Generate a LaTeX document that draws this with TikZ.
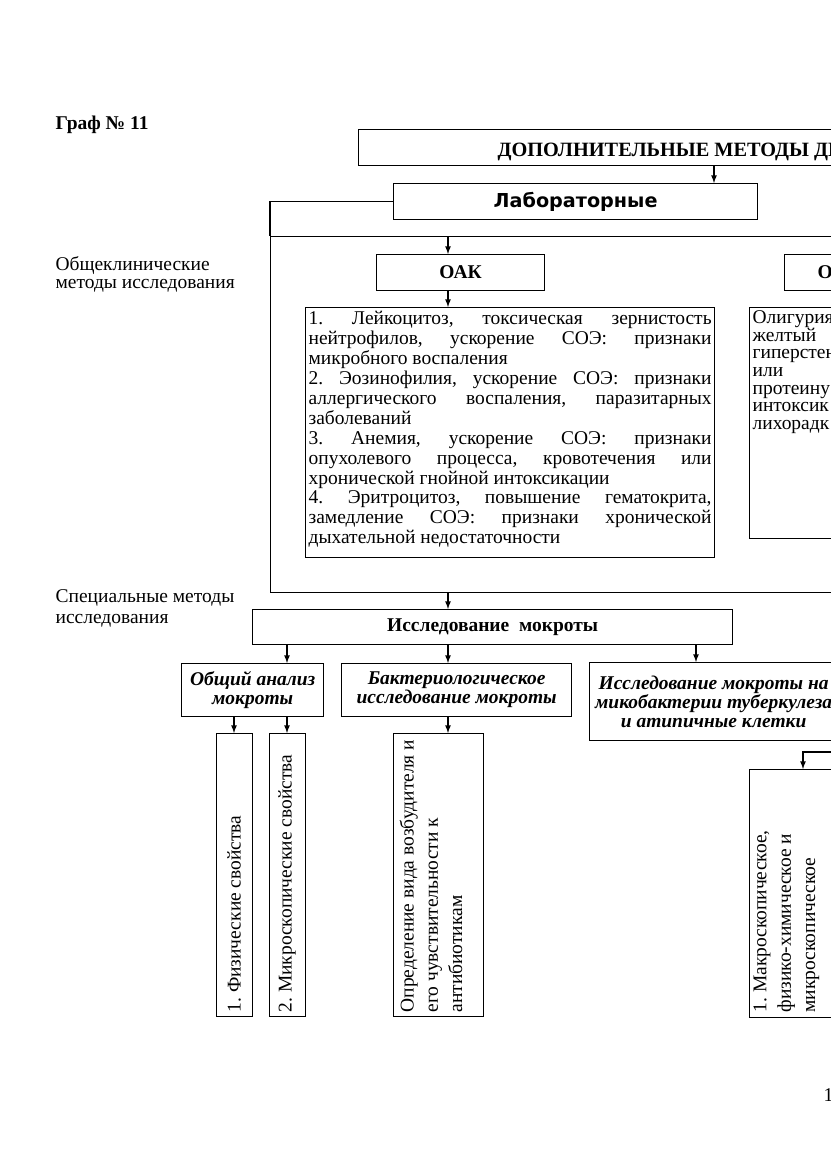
\documentclass[tikz,border=0pt]{standalone}
\usepackage{fontspec}
\setmainfont{Liberation Serif}
\newfontfamily\blacksans{DejaVu Sans}
\usetikzlibrary{arrows,positioning}
\newcommand{\pxl}[1]{#1*0.2527mm}
\hyphenpenalty=10000
\exhyphenpenalty=10000
\frenchspacing

\begin{document}
\begin{tikzpicture}[x=0.2527mm,y=-0.2527mm,>=latex,line width=0.9pt]
\tikzstyle{bx}=[rectangle,draw=black,inner sep=0pt,anchor=north west]
\tikzstyle{txtonly}=[rectangle,inner sep=0pt]
\tikzstyle{hd}=[font=\fontsize{14}{16}\selectfont\bfseries]
\tikzstyle{sub}=[font=\fontsize{14}{13.6}\selectfont\bfseries\itshape,align=center]
\tikzstyle{body}=[txtonly,anchor=north west,font=\fontsize{14}{14.1}\selectfont]
\tikzstyle{vtxt}=[txtonly,rotate=90,align=left,font=\fontsize{14}{17.5}\selectfont]
\useasboundingbox (0,0) rectangle (831,1174);
\clip (0,0) rectangle (831,1174);
\coordinate (colA) at (448,0);
\coordinate (colB) at (714,0);
\coordinate (colC) at (287,0);
\coordinate (colD) at (234,0);
\coordinate (colE) at (696,0);
\coordinate (colF) at (803,0);
% title and top row
\node (graf) [txtonly,hd,anchor=base west] at (55,129) {Граф № 11};
\node (dop) [bx,minimum width=\pxl{520},minimum height=\pxl{36}] at (358,129) {};
\node (doplbl) [txtonly,font=\fontsize{14.6}{16}\selectfont\bfseries,anchor=base west] at (497,156) {ДОПОЛНИТЕЛЬНЫЕ МЕТОДЫ ДИ};
\node (lab) [bx,minimum width=\pxl{364},minimum height=\pxl{36},font=\blacksans\bfseries\fontsize{13.8}{15}\selectfont] at (393,183) {Лабораторные};
\draw[->] (dop.south -| colB) -- (lab.north -| colB);
% side labels
\node (obkl) [body,align=left,font=\fontsize{14}{12.9}\selectfont] at (55,256) {Общеклинические\\методы исследования};
\node (spec) [body,align=left,font=\fontsize{14}{15}\selectfont] at (55,589) {Специальные методы\\исследования};
% frame of the laboratory part
\node (frm) [bx,minimum width=\pxl{620},minimum height=\pxl{356}] at (270,236) {};
\draw (lab.west) -| (frm.north west);
\node (oak) [bx,hd,minimum width=\pxl{168},minimum height=\pxl{36}] at (376,254) {ОАК};
\draw[->] (frm.north -| colA) -- (oak.north -| colA);
\node (oakbox) [bx,minimum width=\pxl{409},minimum height=\pxl{250}] at (305,307) {};
\draw[->] (oak.south -| colA) -- (oakbox.north -| colA);
\node (oaktxt) [body,text width=\pxl{403},align=justify,font=\fontsize{14}{14.3}\selectfont] at (308,311) {%
1. Лейкоцитоз, токсическая зернистость\linebreak
нейтрофилов, ускорение СОЭ: признаки\linebreak
микробного воспаления\par
2. Эозинофилия, ускорение СОЭ: признаки\linebreak
аллергического воспаления, паразитарных\linebreak
заболеваний\par
3. Анемия, ускорение СОЭ: признаки\linebreak
опухолевого процесса, кровотечения или\linebreak
хронической гнойной интоксикации\par
4. Эритроцитоз, повышение гематокрита,\linebreak
замедление СОЭ: признаки хронической\linebreak
дыхательной недостаточности};
\node (oam) [bx,minimum width=\pxl{100},minimum height=\pxl{36}] at (784,254) {};
\node (oamlbl) [txtonly,hd,anchor=west] at (817,272) {О};
\node (oambox) [bx,minimum width=\pxl{120},minimum height=\pxl{231}] at (749,307) {};
\node (oamtxt) [body,align=left,font=\fontsize{14}{12.7}\selectfont] at (752,310) {Олигурия\\желтый\\гиперстен\\или\\протеину\\интоксик\\лихорадк};
% sputum
\node (mokr) [bx,hd,minimum width=\pxl{480},minimum height=\pxl{35}] at (252,609) {Исследование\ \ мокроты};
\draw[->] (frm.south -| colA) -- (mokr.north -| colA);
\node (obsh) [bx,sub,minimum width=\pxl{142},minimum height=\pxl{53}] at (181,663) {Общий анализ\\мокроты};
\node (bakt) [bx,sub,minimum width=\pxl{230},minimum height=\pxl{53}] at (341,663) {Бактериологическое\\исследование мокроты};
\node (tub) [bx,sub,minimum width=\pxl{248},minimum height=\pxl{78}] at (589,662) {Исследование мокроты на\\микобактерии туберкулеза\\и атипичные клетки};
\draw[->] (mokr.south -| colC) -- (obsh.north -| colC);
\draw[->] (mokr.south -| colA) -- (bakt.north -| colA);
\draw[->] (mokr.south -| colE) -- (tub.north -| colE);
% vertical boxes
\node (fiz) [bx,minimum width=\pxl{36},minimum height=\pxl{283}] at (216,733) {};
\node (mikr) [bx,minimum width=\pxl{36},minimum height=\pxl{283}] at (269,733) {};
\node (opr) [bx,minimum width=\pxl{90},minimum height=\pxl{283}] at (393,733) {};
\node (makr) [bx,minimum width=\pxl{100},minimum height=\pxl{248}] at (749,769) {};
\draw[->] (obsh.south -| colD) -- (fiz.north -| colD);
\draw[->] (obsh.south -| colC) -- (mikr.north -| colC);
\draw[->] (bakt.south -| colA) -- (opr.north -| colA);
\coordinate (tubout) at (845,752);
\draw[->] (tubout) -| (makr.north -| colF);
\node (fiztxt) [vtxt,anchor=west] at (234,1013) {1. Физические свойства};
\node (mikrtxt) [vtxt,anchor=west] at (287,1013) {2. Микроскопические свойства};
\node (oprtxt) [vtxt,anchor=north west] at (399,1013) {Определение вида возбудителя и\\его чувствительности к\\антибиотикам};
\node (makrtxt) [vtxt,anchor=north west] at (753,1013) {1. Макроскопическое,\\физико-химическое и\\микроскопическое};
% page number
\node (pgnum) [txtonly,anchor=base west,font=\fontsize{14}{16}\selectfont] at (823,1101) {1};
\end{tikzpicture}
\end{document}
